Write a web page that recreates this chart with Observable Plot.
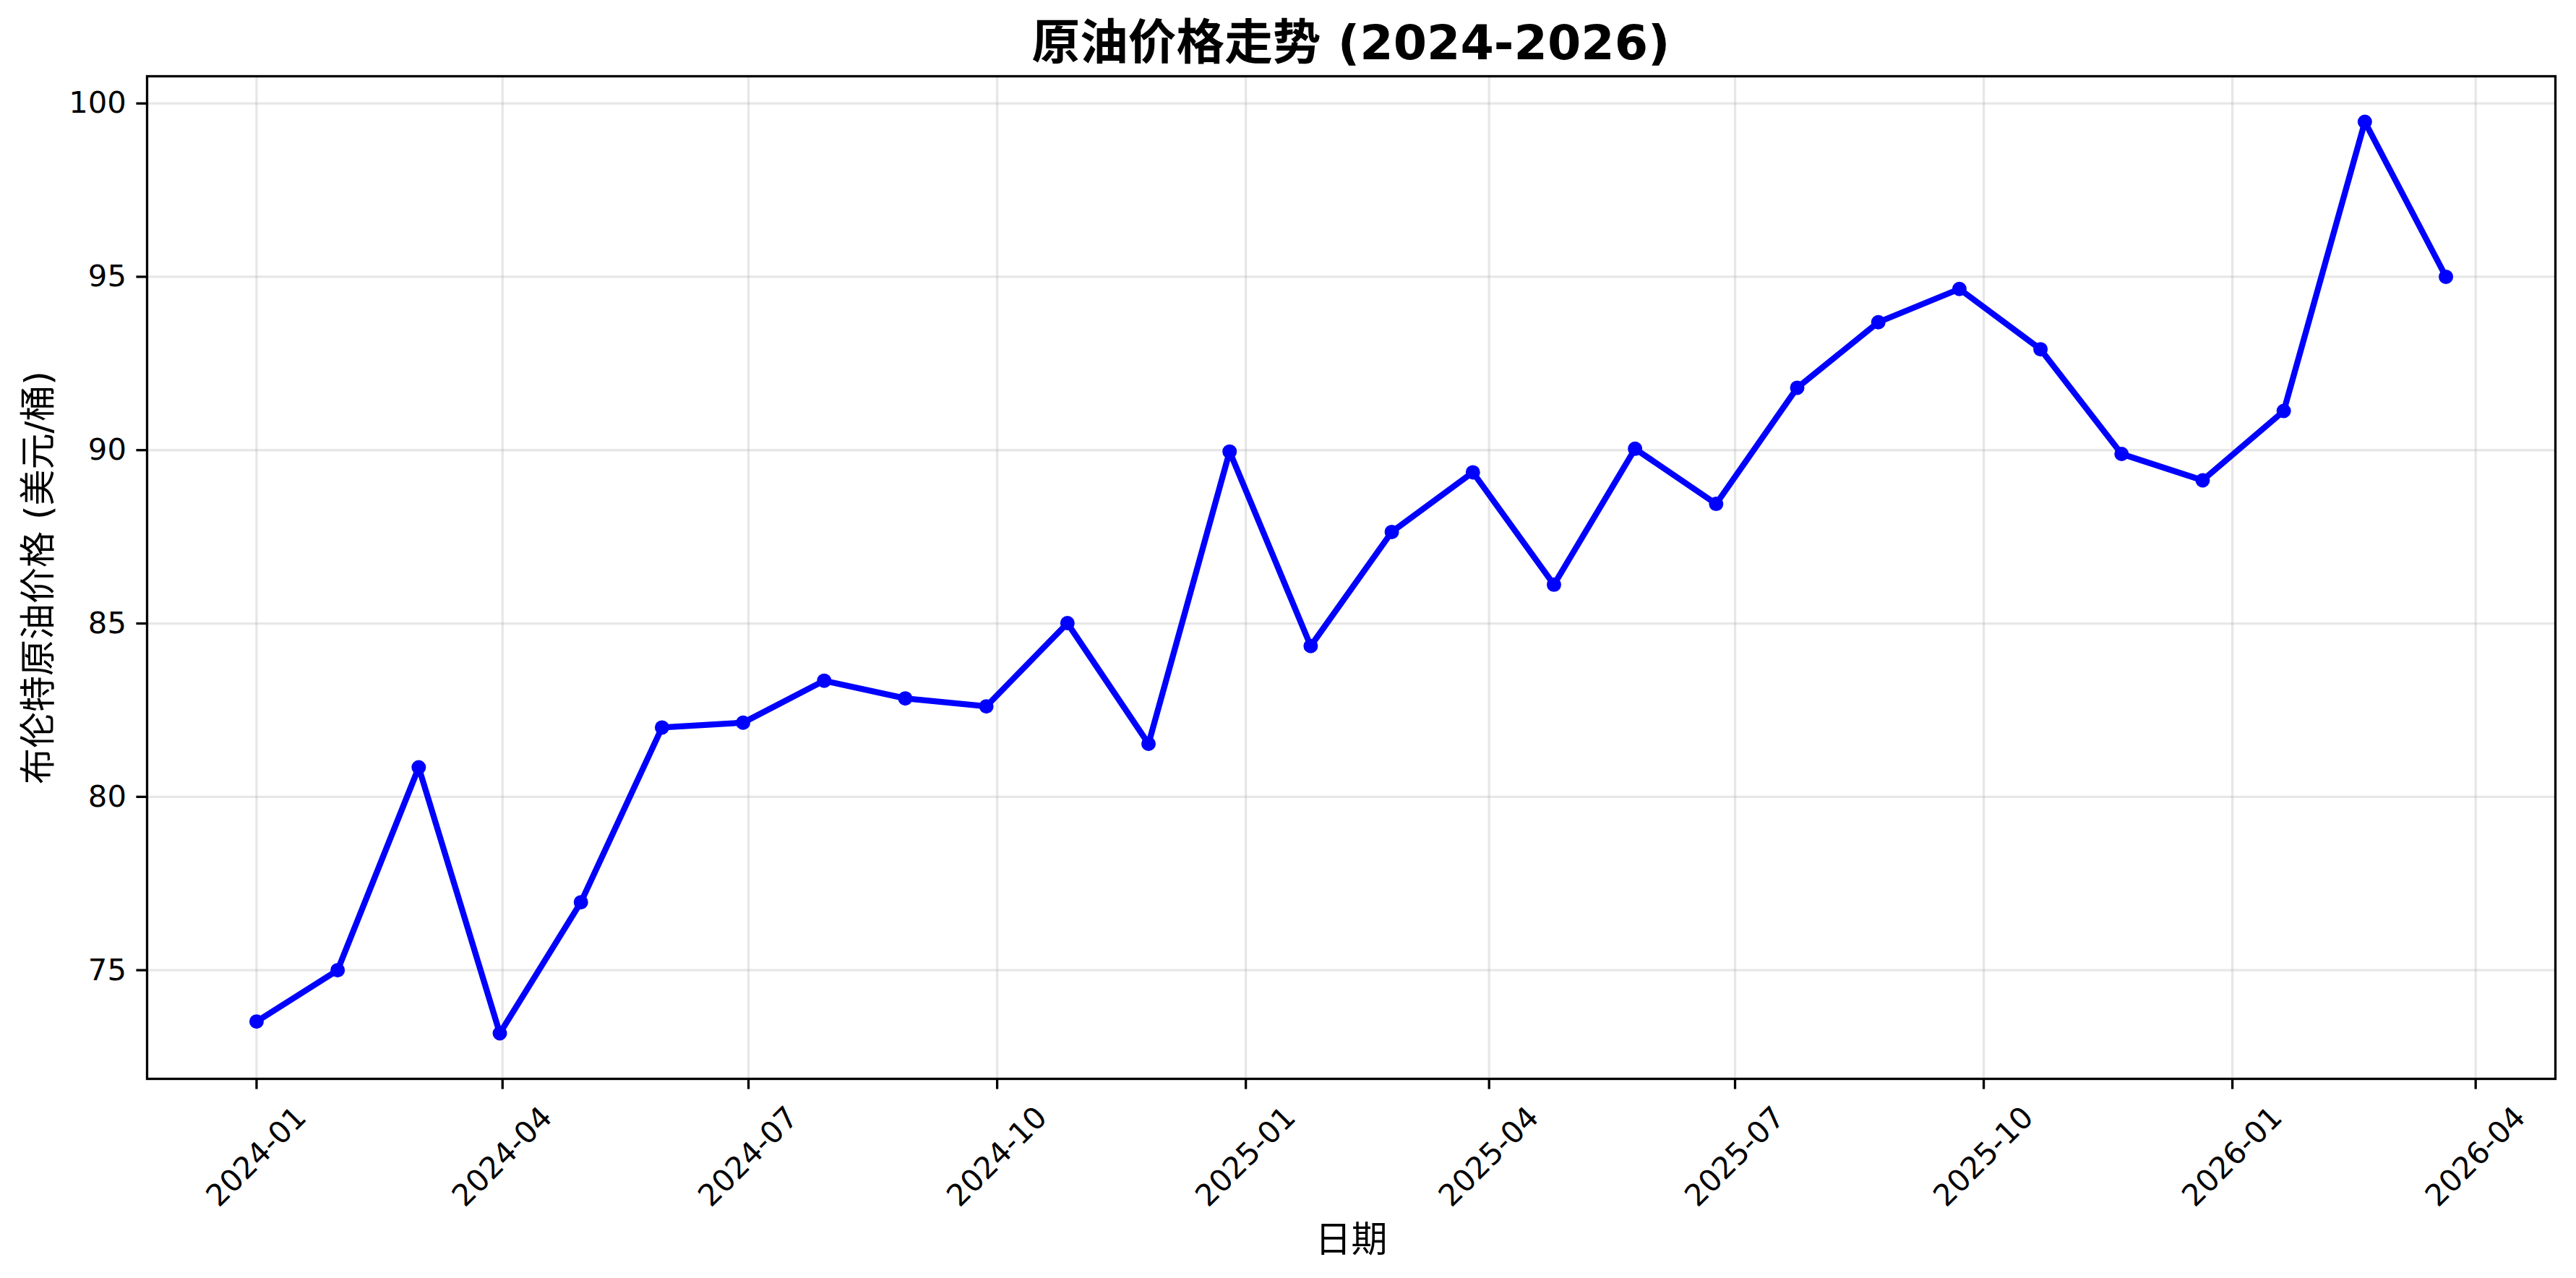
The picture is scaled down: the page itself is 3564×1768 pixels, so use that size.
<!DOCTYPE html>
<html><head><meta charset="utf-8">
<script src="https://cdn.jsdelivr.net/npm/d3@7"></script>
<script src="https://cdn.jsdelivr.net/npm/@observablehq/plot@0.6"></script>
<style>
html,body{margin:0;padding:0;background:#fff;}
#wrap{width:3564px;height:1768px;position:relative;overflow:hidden;background:#fff;}
#title{height:93px;box-sizing:border-box;padding-top:26px;padding-left:174px;font-family:"DejaVu Sans","Noto Sans CJK SC",sans-serif;font-weight:bold;font-size:66.7px;line-height:66.7px;text-align:center;color:#000;white-space:nowrap;}
#chart svg{display:block;}
</style>
</head><body>
<div id="wrap"><div id="title"></div><div id="chart"></div></div>
<script>
const titleText = "原油价格走势 (2024-2026)";
const yLabel = "布伦特原油价格 (美元/桶)";
const xLabel = "日期";

const dates = ["2024-01-01","2024-01-31","2024-03-01","2024-03-31","2024-04-30","2024-05-30","2024-06-29","2024-07-29","2024-08-28","2024-09-27","2024-10-27","2024-11-26","2024-12-26","2025-01-25","2025-02-24","2025-03-26","2025-04-25","2025-05-25","2025-06-24","2025-07-24","2025-08-23","2025-09-22","2025-10-22","2025-11-21","2025-12-21","2026-01-20","2026-02-19","2026-03-21"];
const prices = [73.52, 75.0, 80.85, 73.18, 76.96, 82.0, 82.14, 83.35, 82.84, 82.61, 85.01, 81.53, 89.96, 84.35, 87.64, 89.36, 86.12, 90.04, 88.45, 91.80, 93.69, 94.65, 92.91, 89.89, 89.13, 91.13, 99.47, 95.0];

const xTickDates = ["2024-01-01","2024-04-01","2024-07-01","2024-10-01","2025-01-01","2025-04-01","2025-07-01","2025-10-01","2026-01-01","2026-04-01"];
const xTickLabels = ["2024-01","2024-04","2024-07","2024-10","2025-01","2025-04","2025-07","2025-10","2026-01","2026-04"];
const yTicks = [75, 80, 85, 90, 95, 100];

document.getElementById("title").textContent = titleText;

const data = dates.map((d, i) => ({date: new Date(d + "T00:00:00Z"), price: prices[i]}));
const xTicks = xTickDates.map(d => new Date(d + "T00:00:00Z"));

const [x0, x1] = d3.extent(data, d => +d.date);
const xPad = (x1 - x0) * 0.05;
const [y0, y1] = d3.extent(prices);
const yPad = (y1 - y0) * 0.05;

const LW = 3.3;
const chart = Plot.plot({
  width: 3564,
  height: 1675,
  marginTop: 12,
  marginBottom: 276,
  marginLeft: 203,
  marginRight: 29,
  style: {fontFamily: "'DejaVu Sans','Noto Sans CJK SC',sans-serif", fontSize: "41.7px", color: "#000", background: "#fff"},
  x: {type: "utc", domain: [new Date(x0 - xPad), new Date(x1 + xPad)]},
  y: {domain: [y0 - yPad, y1 + yPad]},
  marks: [
    Plot.gridX(xTicks, {stroke: "#b0b0b0", strokeOpacity: 0.3, strokeWidth: LW}),
    Plot.gridY(yTicks, {stroke: "#b0b0b0", strokeOpacity: 0.3, strokeWidth: LW}),
    Plot.axisY(yTicks, {tickSize: 14.6, tickPadding: 14, fontSize: 41.7, strokeWidth: LW, label: null, tickFormat: d => String(d)}),
    Plot.axisX(xTicks, {tickSize: 14.6, strokeWidth: LW, label: null, tickFormat: () => ""}),
    Plot.text(xTicks, {x: d => d, text: (d, i) => xTickLabels[i], frameAnchor: "bottom", dy: 108, rotate: -45, textAnchor: "middle", lineAnchor: "middle", fontSize: 41.7, fill: "#000"}),
    Plot.text([yLabel], {text: d => d, frameAnchor: "left", dx: -150, rotate: -90, textAnchor: "middle", lineAnchor: "middle", fontSize: 50, fill: "#000"}),
    Plot.text([xLabel], {text: d => d, frameAnchor: "bottom", dy: 223, textAnchor: "middle", lineAnchor: "middle", fontSize: 50, fill: "#000"}),
    Plot.line(data, {x: "date", y: "price", stroke: "#0000ff", strokeWidth: 8.3}),
    Plot.dot(data, {x: "date", y: "price", fill: "#0000ff", stroke: "#0000ff", strokeWidth: 2, r: 9}),
    Plot.frame({stroke: "#000", strokeWidth: LW})
  ]
});
document.getElementById("chart").appendChild(chart);
</script>
</body></html>
